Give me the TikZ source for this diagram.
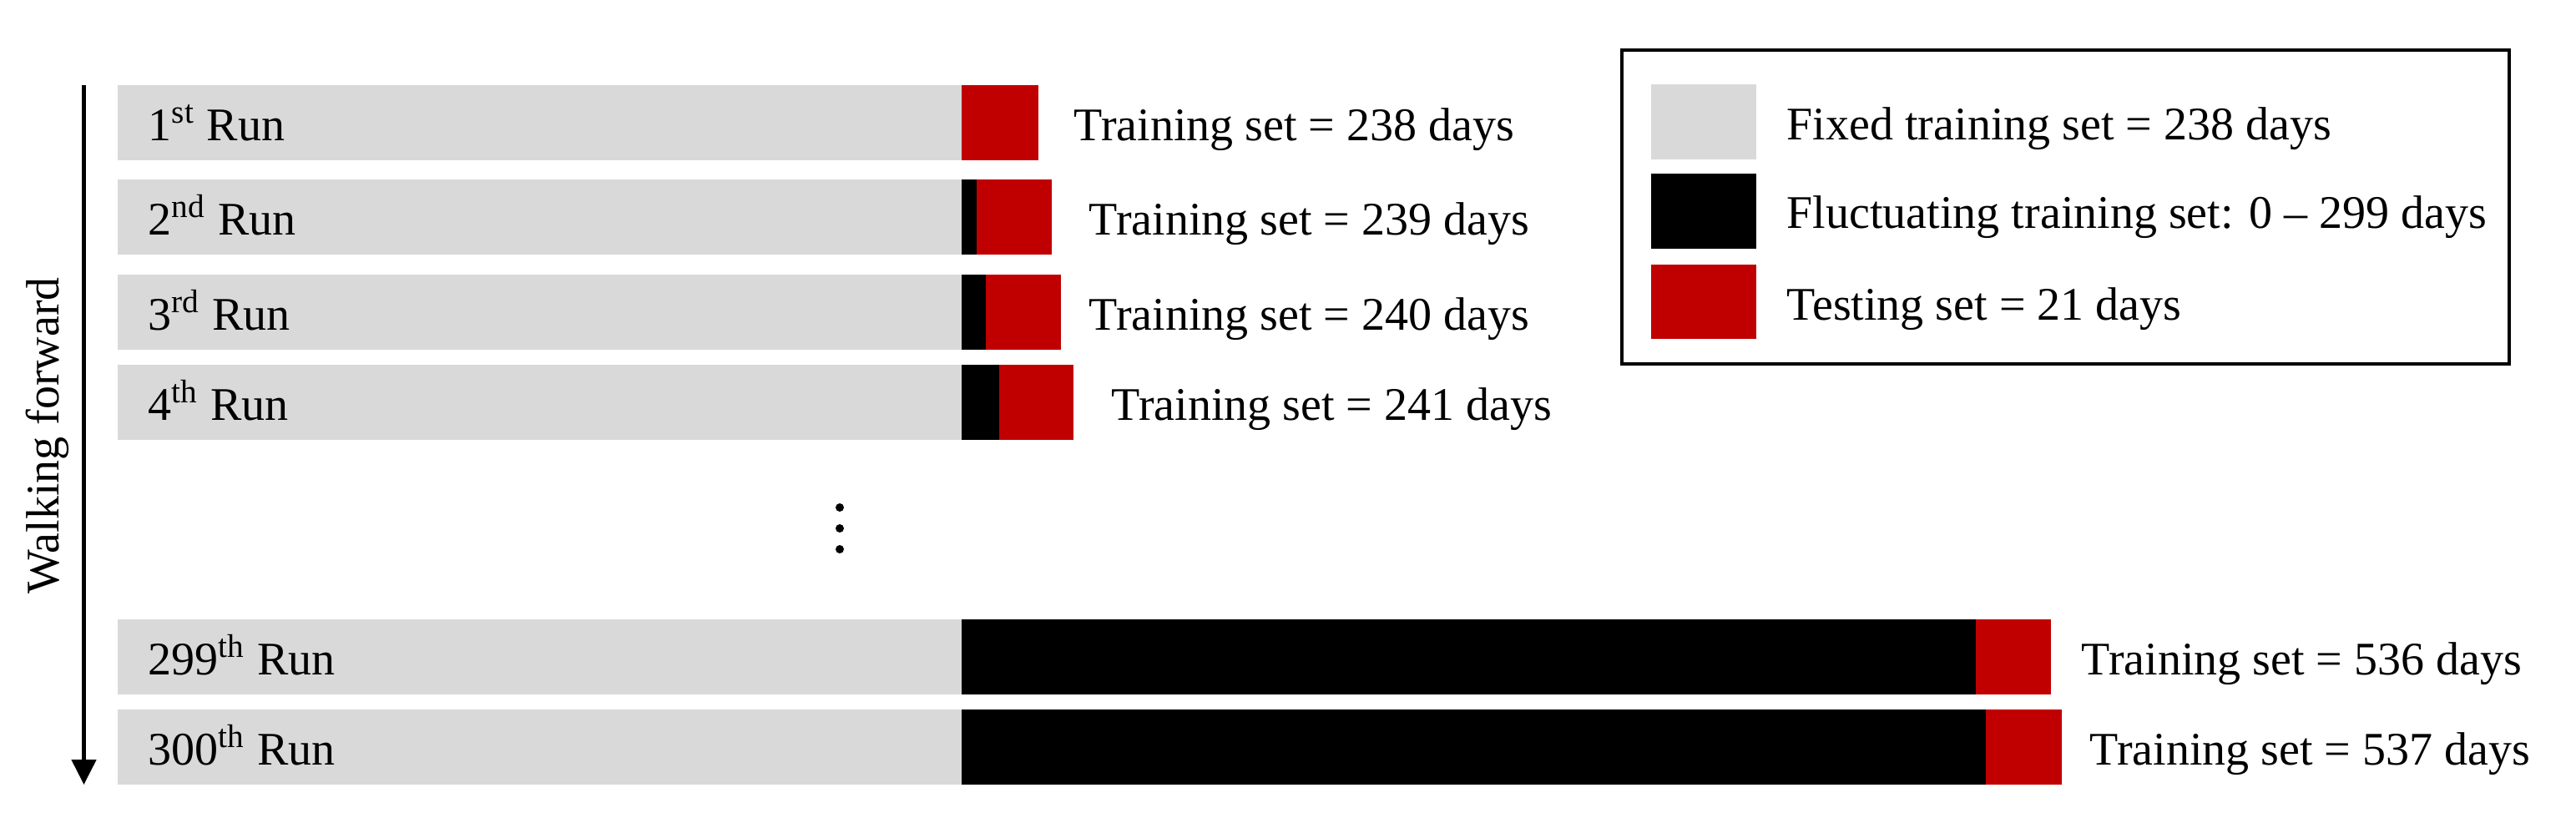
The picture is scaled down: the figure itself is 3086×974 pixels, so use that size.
\documentclass[tikz,border=0pt]{standalone}
\usepackage{fontspec}
\setmainfont{Liberation Serif}
\usetikzlibrary{arrows.meta}
\definecolor{fixgray}{HTML}{D9D9D9}
\definecolor{testred}{HTML}{C00000}
\begin{document}
\begin{tikzpicture}[x=0.25pt,y=-0.25pt,
  txt/.style={font=\fontsize{14pt}{16pt}\selectfont, inner sep=0pt, anchor=base west},
  fixbar/.style={fill=fixgray},
  flucbar/.style={fill=black},
  testbar/.style={fill=testred}]
\useasboundingbox (0,0) rectangle (3086,974);
\fill[white] (0,0) rectangle (3086,974);
% runs
\foreach \n/\t/\k/\r/\x/\d/\o in {1/102/1152/1244/1286/238/st, 2/215/1170/1260/1304/239/nd, 3/329/1181/1271/1304/240/rd, 4/437/1197/1286/1331/241/th, 299/742/2367/2457/2493/536/th, 300/850/2379/2470/2503/537/th}{
  \fill[fixbar] (141,\t) rectangle (1152,\t+90);
  \fill[flucbar] (1152,\t) rectangle (\k,\t+90);
  \fill[testbar] (\k,\t) rectangle (\r,\t+90);
  \node[txt] (run\n) at (177,\t+66) {\n\textsuperscript{\o} Run};
  \node[txt] (set\n) at (\x,\t+66) {Training set = \d\ days};
}
% dots
\fill (1006,608) circle (5);
\fill (1006,633) circle (5);
\fill (1006,658) circle (5);
% walking forward arrow
\coordinate (atop) at (100.5,102);
\coordinate (abot) at (100.5,940);
\draw[line width=1.25pt, -{Triangle[width=7.25pt,length=7.5pt]}] (atop) -- (abot);
\node[font=\fontsize{14pt}{16pt}\selectfont, inner sep=0pt, rotate=90, anchor=base] (walk) at (70,522) {Walking forward};
% legend
\draw[line width=1pt] (1943,60) rectangle (3006,436);
\fill[fixbar] (1978,101) rectangle (2104,191);
\fill[flucbar] (1978,208) rectangle (2104,298);
\fill[testbar] (1978,317) rectangle (2104,406);
\node[txt] (lfix) at (2140,167) {Fixed training set = 238 days};
\node[txt] (lfluc) at (2140,273) {Fluctuating training set: 0 \textendash{} 299 days};
\node[txt] (ltest) at (2140,383) {Testing set = 21 days};
\end{tikzpicture}
\end{document}
